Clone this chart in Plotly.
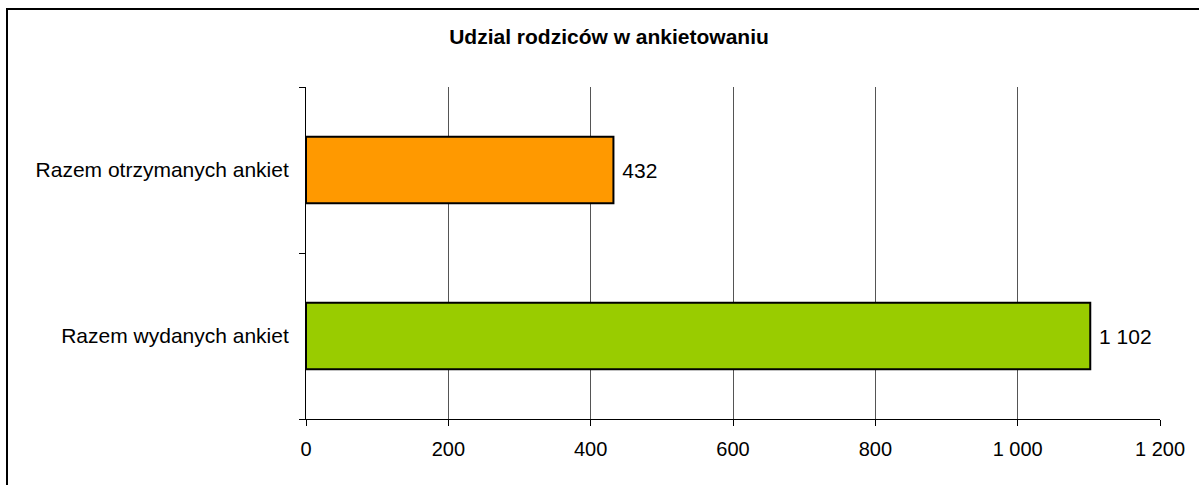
import plotly.graph_objects as go

categories = ["Razem wydanych ankiet", "Razem otrzymanych ankiet"]
values = [1102, 432]
value_labels = ["1 102", "432"]
bar_colors = ["#99CC00", "#FF9900"]
x_tickvals = [0, 200, 400, 600, 800, 1000, 1200]
x_ticktext = ["0", "200", "400", "600", "800", "1 000", "1 200"]
title_text = "Udzial rodziców w ankietowaniu"

W, H = 1199, 485
L, R, T, B = 306, 39, 87, 66
FONT = "Liberation Sans, Arial, sans-serif"

positions = list(range(len(categories)))

fig = go.Figure()
fig.add_trace(go.Bar(
    x=values, y=positions, orientation="h", width=0.4,
    marker=dict(color=bar_colors, line=dict(color="#000000", width=2)),
    text=value_labels, texttemplate=" %{text}", textposition="outside", cliponaxis=False,
    textfont=dict(family=FONT, size=21, color="#000000"),
    hoverinfo="skip",
))

pw, ph = W - L - R, H - T - B
def px_x(p):
    return (p - L) / pw
def px_y(p):
    return (H - B - p) / ph

fig.update_layout(
    width=W, height=H,
    margin=dict(l=L, r=R, t=T, b=B),
    paper_bgcolor="white", plot_bgcolor="white",
    showlegend=False,
    font=dict(family=FONT, size=20, color="#000000"),
    title=dict(text="<b>" + title_text + "</b>", x=609 / W, xanchor="center",
               y=1 - 37 / H, yanchor="middle",
               font=dict(family=FONT, size=21, color="#000000")),
    uniformtext=dict(mode=False),
    xaxis=dict(range=[0, 1200], tickvals=x_tickvals, ticktext=x_ticktext,
               showgrid=True, gridcolor="#555555", gridwidth=1,
               showline=True, linecolor="#000000", linewidth=1,
               ticks="outside", ticklen=6, tickcolor="#000000",
               zeroline=False, tickfont=dict(size=20), ticklabelstandoff=6),
    yaxis=dict(range=[-0.5, len(categories) - 0.5], tickvals=positions, ticktext=categories,
               showgrid=False, showline=True, linecolor="#000000", linewidth=1,
               ticks="", zeroline=False, tickfont=dict(size=21), ticklabelstandoff=12,
               minor=dict(tickvals=[-0.5, 0.5, 1.5], ticks="outside", ticklen=6,
                          tickcolor="#000000", showgrid=False)),
    shapes=[dict(type="rect", xref="paper", yref="paper",
                 x0=px_x(7), x1=px_x(W + 20), y0=px_y(H + 20), y1=px_y(9),
                 line=dict(color="#000000", width=2), fillcolor="rgba(0,0,0,0)",
                 layer="above")],
)

fig.write_html("out.html", config={"displayModeBar": False},
               post_script="document.body.style.margin='0';")
